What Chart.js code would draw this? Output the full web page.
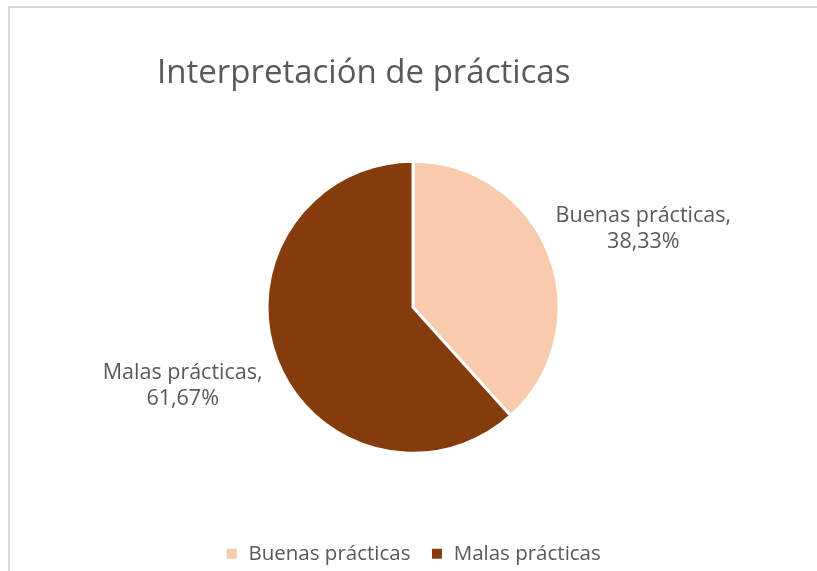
<!DOCTYPE html>
<html>
<head>
<meta charset="utf-8">
<script src="https://cdn.jsdelivr.net/npm/chart.js@4/dist/chart.umd.min.js"></script>
<style>
  html, body { margin: 0; padding: 0; background: #fff; overflow: hidden; }
  #wrap { position: relative; width: 817px; height: 571px; }
</style>
</head>
<body>
<div id="wrap"><canvas id="pie-chart"></canvas></div>
<script>
const chartTitle = 'Interpretación de prácticas';
const categories = ['Buenas prácticas', 'Malas prácticas'];
const values = [38.33, 61.67];
const valueLabels = ['38,33%', '61,67%'];
const colors = ['#F8CBAD', '#843C0C'];

const textColor = '#595959';
const fontFamily = "'Open Sans', 'Noto Sans', sans-serif";

// frame + title + outside labels
const decorPlugin = {
    id: 'decor',
    beforeDraw: (chart) => {
        const ctx = chart.ctx;
        ctx.save();
        ctx.strokeStyle = '#D9D9D9';
        ctx.lineWidth = 2;
        ctx.strokeRect(9, 7, 840, 600);
        ctx.fillStyle = textColor;
        ctx.font = "33px " + fontFamily;
        ctx.textBaseline = 'alphabetic';
        ctx.textAlign = 'left';
        ctx.fillText(chartTitle, 157, 83);
        ctx.restore();
    },
    afterDatasetsDraw: (chart) => {
        const ctx = chart.ctx;
        const meta = chart.getDatasetMeta(0);
        ctx.save();
        ctx.fillStyle = textColor;
        ctx.font = "21.5px " + fontFamily;
        ctx.textAlign = 'center';
        ctx.textBaseline = 'middle';
        meta.data.forEach((arc, i) => {
            const p = arc.getProps(['x', 'y', 'startAngle', 'endAngle', 'outerRadius'], true);
            const mid = (p.startAngle + p.endAngle) / 2;
            const cx = p.x + Math.cos(mid) * p.outerRadius * 1.69;
            const cy = p.y + Math.sin(mid) * p.outerRadius * 1.5;
            ctx.fillText(categories[i] + ',', cx, cy - 13);
            ctx.fillText(valueLabels[i], cx, cy + 13);
        });
        ctx.restore();
    }
};

new Chart(document.getElementById('pie-chart'), {
    type: 'pie',
    data: {
        labels: categories,
        datasets: [{
            data: values,
            backgroundColor: colors,
            borderColor: '#ffffff',
            borderWidth: 3,
            radius: 146
        }]
    },
    options: {
        responsive: true,
        maintainAspectRatio: false,
        animation: false,
        layout: {
            padding: { top: 91, left: 18, right: 9, bottom: -3 }
        },
        plugins: {
            title: { display: false },
            tooltip: { enabled: false },
            legend: {
                position: 'bottom',
                labels: {
                    boxWidth: 13,
                    boxHeight: 13,
                    padding: 20,
                    color: textColor,
                    font: { family: fontFamily, size: 20.5 }
                }
            }
        }
    },
    plugins: [decorPlugin]
});
</script>
</body>
</html>
